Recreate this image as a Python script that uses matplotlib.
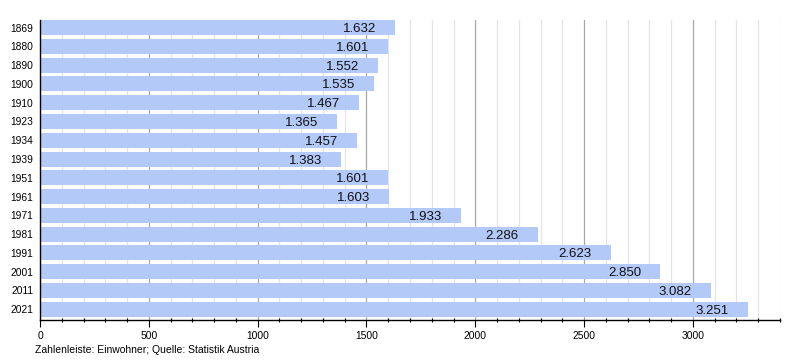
import matplotlib
matplotlib.use("Agg")
import matplotlib.pyplot as plt
from matplotlib.ticker import MultipleLocator

# data
years = ["1869", "1880", "1890", "1900", "1910", "1923", "1934", "1939",
         "1951", "1961", "1971", "1981", "1991", "2001", "2011", "2021"]
population = [1632, 1601, 1552, 1535, 1467, 1365, 1457, 1383,
              1601, 1603, 1933, 2286, 2623, 2850, 3082, 3251]

plt.rcParams["font.family"] = ["Liberation Sans", "DejaVu Sans"]

fig = plt.figure(figsize=(8, 3.6), dpi=100)
ax = fig.add_axes([0.05, 0.111, 0.925, 0.833])

pos = list(range(len(years)))
ax.barh(pos, population, height=0.8, color="#b3c9f8", zorder=2)

# value labels inside the bars, German thousands separator
for p, v in zip(pos, population):
    txt = f"{v:,}".replace(",", ".")
    ax.annotate(txt, (v, p), xytext=(-19, 0), textcoords="offset pixels",
                ha="right", va="center_baseline", fontsize=9.5, color="#111111",
                zorder=3)

ax.set_xlim(0, 3400)
ax.set_ylim(15.58, -0.4)
ax.set_yticks(pos)
ax.set_yticklabels(years, fontsize=7.4)
ax.tick_params(axis="y", length=0, pad=5)

ax.xaxis.set_major_locator(MultipleLocator(500))
ax.xaxis.set_minor_locator(MultipleLocator(100))
ax.tick_params(axis="x", which="major", length=5, width=0.8, labelsize=7.4, pad=3)
ax.tick_params(axis="x", which="minor", length=3, width=0.8, direction="inout")

ax.grid(axis="x", which="major", color="#a8a8a8", linewidth=0.9, zorder=1)
ax.grid(axis="x", which="minor", color="#e4e4e4", linewidth=0.9, zorder=1)
ax.set_axisbelow(True)

for s in ["top", "right"]:
    ax.spines[s].set_visible(False)
ax.spines["left"].set_linewidth(1.0)
ax.spines["bottom"].set_linewidth(1.0)

fig.text(35 / 800, 1 - 350 / 360, "Zahlenleiste: Einwohner; Quelle: Statistik Austria",
         fontsize=7.5, va="center", ha="left")

fig.savefig("out.png", dpi=100)
